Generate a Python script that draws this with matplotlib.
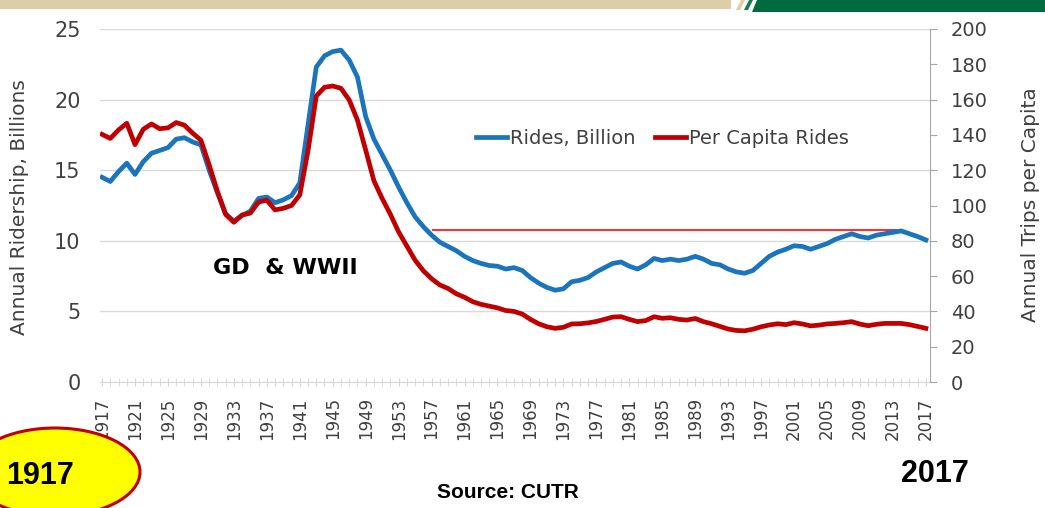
import numpy as np
import matplotlib.pyplot as plt
from matplotlib.patches import Rectangle, Ellipse, Polygon
from matplotlib.lines import Line2D

years = np.arange(1917, 2018)

# annual unlinked trips, billions (left axis)
rides = [14.5, 14.2, 14.9, 15.5, 14.7, 15.6, 16.2, 16.4, 16.6, 17.2,
         17.3, 17.0, 16.8, 15.0, 13.4, 11.9, 11.4, 11.8, 12.1, 13.0,
         13.1, 12.7, 12.9, 13.2, 14.1, 18.2, 22.3, 23.1, 23.4, 23.5,
         22.8, 21.6, 18.8, 17.2, 16.1, 15.0, 13.8, 12.7, 11.7, 11.0,
         10.4, 9.9, 9.6, 9.3, 8.9, 8.6, 8.4, 8.25, 8.2, 8.0,
         8.1, 7.9, 7.4, 7.0, 6.7, 6.5, 6.6, 7.1, 7.2, 7.4,
         7.8, 8.1, 8.4, 8.5, 8.2, 8.0, 8.3, 8.75, 8.6, 8.7,
         8.6, 8.7, 8.9, 8.7, 8.4, 8.3, 8.0, 7.8, 7.7, 7.9,
         8.4, 8.9, 9.2, 9.4, 9.65, 9.6, 9.4, 9.6, 9.8, 10.1,
         10.3, 10.5, 10.3, 10.2, 10.4, 10.5, 10.6, 10.7, 10.5, 10.3,
         10.06]

# annual trips per capita (right axis)
per_capita = [140.3, 138, 142.8, 146.6, 134.5, 143.2, 146.2, 143.5, 144, 147,
              145.5, 141, 137, 123, 108, 95, 90.5, 94.6, 95.7, 102,
              103, 97.5, 98.4, 100, 106, 131, 162, 167, 167.7, 166.4,
              159.8, 148.4, 131.4, 114, 104, 95, 85, 77, 69, 63,
              58.5, 55, 53, 50, 48, 45.5, 44, 43, 42, 40.5,
              40, 38.5, 35.5, 33, 31.3, 30.4, 31, 32.9, 33, 33.5,
              34.3, 35.5, 36.8, 37, 35.5, 34.2, 34.8, 37, 36.1, 36.4,
              35.5, 35.1, 36, 34.2, 33, 31.5, 30, 29.2, 29, 29.9,
              31.3, 32.3, 33, 32.5, 33.6, 32.9, 31.8, 32.2, 32.9, 33.2,
              33.6, 34.2, 32.8, 31.9, 32.7, 33.2, 33.2, 33.2, 32.5, 31.5,
              30.4]

# reference line: 2014 ridership level, drawn from 1957 on
ref_level = 10.73
ref_start, ref_end = 1957, 2014

W, H = 1045, 508


def fx(px):
    return px / W


def fy(py):
    return 1 - py / H


fig = plt.figure(figsize=(W / 100, H / 100), dpi=100)
ax1 = fig.add_axes([fx(100), fy(382), fx(930) - fx(100), fy(29) - fy(382)])
ax2 = ax1.twinx()

blue = '#1B75BC'
red = '#C00000'
grey_txt = '#404040'

ax1.yaxis.grid(True, color='#d9d9d9', lw=1)
ax1.set_axisbelow(True)
ax1.hlines(ref_level, ref_start, ref_end, color='#FF1A1A', lw=1.3, zorder=1.5)
ax1.plot(years, rides, color=blue, lw=3.4, solid_joinstyle='round', zorder=2)
ax2.plot(years, per_capita, color=red, lw=3.4, solid_joinstyle='round')

ax1.set_xlim(1916.75, 2017.5)
ax1.set_ylim(0, 25)
ax2.set_ylim(0, 200)

ax1.set_xticks(years[::4])
ax1.set_xticks(years, minor=True)
ax1.set_xticklabels([str(y) for y in years[::4]], rotation=90, fontsize=12, color=grey_txt)
ax1.tick_params(axis='x', which='both', direction='inout', length=6, color='#d4d4d4', pad=8)

ax1.set_yticks(range(0, 26, 5))
ax1.tick_params(axis='y', length=0, labelsize=15, labelcolor=grey_txt, pad=14)

ax2.set_yticks(range(0, 201, 20))
ax2.tick_params(axis='y', direction='out', length=5, color='#a6a6a6', labelsize=14,
                labelcolor=grey_txt, pad=10)

for s in ['left', 'top', 'right']:
    ax1.spines[s].set_visible(False)
ax1.spines['bottom'].set_color('#d9d9d9')
for s in ['left', 'top', 'bottom']:
    ax2.spines[s].set_visible(False)
ax2.spines['right'].set_color('#a6a6a6')

fig.text(fx(20), fy(207), 'Annual Ridership, Billions', rotation=90, fontsize=14.5,
         color=grey_txt, ha='center', va='center')
fig.text(fx(1030), fy(205), 'Annual Trips per Capita', rotation=90, fontsize=14.5,
         color=grey_txt, ha='center', va='center')

handles = [Line2D([], [], color=blue, lw=3.4), Line2D([], [], color=red, lw=3.4)]
fig.legend(handles, ['Rides, Billion', 'Per Capita Rides'], loc='center',
           bbox_to_anchor=(fx(662), fy(138)), ncol=2, frameon=False, fontsize=14,
           handlelength=1.6, handletextpad=0.15, columnspacing=1.0, labelcolor=grey_txt)

ax1.text(1930.5, 8.07, 'GD  & WWII', fontsize=16, fontweight='bold', va='center', color='black')

# slide decoration on top
fig.add_artist(Rectangle((0, fy(9)), fx(731), fy(0) - fy(9), transform=fig.transFigure,
                         color='#DCCFA8', lw=0))
fig.add_artist(Polygon([(fx(736), fy(10)), (fx(740), fy(10)), (fx(745), fy(0)), (fx(741), fy(0))],
                       closed=True, transform=fig.transFigure, color='#DCCFA8', lw=0))
fig.add_artist(Polygon([(fx(744), fy(10)), (fx(748), fy(10)), (fx(753), fy(0)), (fx(749), fy(0))],
                       closed=True, transform=fig.transFigure, color='#1D7A4C', lw=0))
fig.add_artist(Polygon([(fx(752), fy(12)), (fx(W), fy(12)), (fx(W), fy(0)), (fx(757), fy(0))],
                       closed=True, transform=fig.transFigure, color='#006B3F', lw=0))

# highlighted start year
fig.add_artist(Ellipse((fx(55), fy(472)), fx(170), 88 / H, transform=fig.transFigure,
                       facecolor='#FFFF00', edgecolor='#C00000', lw=2.2))

bold_font = ['Liberation Sans', 'DejaVu Sans']
fig.text(fx(40), fy(476), '1917', fontsize=22, fontweight='bold', family=bold_font,
         ha='center', va='center')
fig.text(fx(935), fy(474), '2017', fontsize=22, fontweight='bold', family=bold_font,
         ha='center', va='center')
fig.text(fx(508), fy(492), 'Source: CUTR', fontsize=15, fontweight='bold', family=bold_font,
         ha='center', va='center')

fig.savefig('out.png', dpi=100)
